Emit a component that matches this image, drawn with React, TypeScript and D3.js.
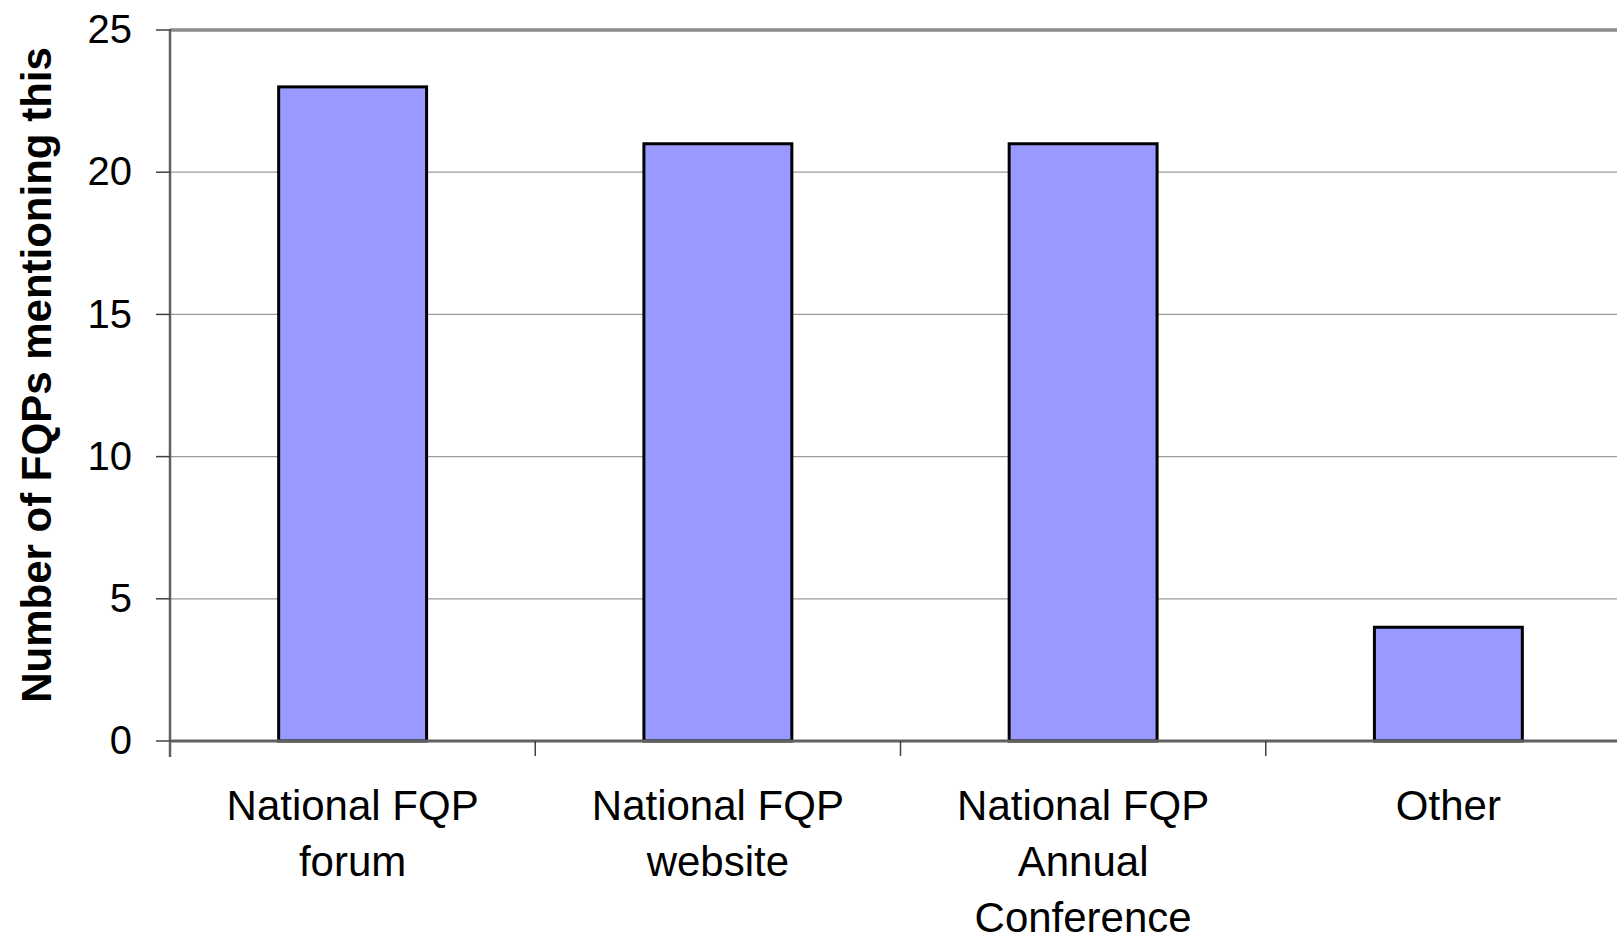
import React, { useEffect, useRef } from 'react';
import * as d3 from 'd3';

const categories = ['National FQP forum', 'National FQP website', 'National FQP Annual Conference', 'Other'];
const categoryLines = [
  ['National FQP', 'forum'],
  ['National FQP', 'website'],
  ['National FQP', 'Annual', 'Conference'],
  ['Other'],
];
const counts = [23, 21, 21, 4];
const yTicks = [0, 5, 10, 15, 20, 25];
const yLabel = 'Number of FQPs mentioning this';

const App: React.FC = () => {
  const ref = useRef<SVGSVGElement | null>(null);

  useEffect(() => {
    const svg = d3.select(ref.current);
    const width = 1617;
    const height = 937;
    const left = 170;
    const top = 30;
    const bottom = 741;
    const right = 1631; // plot runs past the picture edge

    svg.selectAll('*').remove();
    svg.attr('width', width).attr('height', height).attr('viewBox', `0 0 ${width} ${height}`);

    const x = d3.scaleBand<string>().domain(categories).range([left, right]).padding(0);
    const y = d3.scaleLinear().domain([0, 25]).range([bottom, top]);
    const barW = x.bandwidth() * 0.405;

    // gridlines
    svg.append('g')
      .selectAll('line')
      .data(yTicks.filter(d => d > 0 && d < 25))
      .join('line')
      .attr('x1', left)
      .attr('x2', width)
      .attr('y1', d => y(d))
      .attr('y2', d => y(d))
      .attr('stroke', '#9a9a9a')
      .attr('stroke-width', 1.2);

    // top border
    svg.append('line')
      .attr('x1', left).attr('x2', width)
      .attr('y1', y(25)).attr('y2', y(25))
      .attr('stroke', '#8c8c8c').attr('stroke-width', 3.5);

    // bars
    svg.append('g')
      .selectAll('rect')
      .data(counts)
      .join('rect')
      .attr('x', (d, i) => (x(categories[i]) as number) + (x.bandwidth() - barW) / 2)
      .attr('y', d => y(d))
      .attr('width', barW)
      .attr('height', d => y(0) - y(d))
      .attr('fill', '#9999ff')
      .attr('stroke', '#000')
      .attr('stroke-width', 3);

    // y axis
    const yAxis = svg.append('g').attr('transform', `translate(${left},0)`);
    yAxis.append('line')
      .attr('x1', 0).attr('x2', 0).attr('y1', top - 1).attr('y2', bottom + 16)
      .attr('stroke', '#606060').attr('stroke-width', 2.5);
    yAxis.selectAll('line.tick')
      .data(yTicks)
      .join('line')
      .attr('class', 'tick')
      .attr('x1', -14).attr('x2', 0)
      .attr('y1', d => y(d)).attr('y2', d => y(d))
      .attr('stroke', '#404040').attr('stroke-width', 1.5);
    yAxis.selectAll('text')
      .data(yTicks)
      .join('text')
      .attr('x', -38)
      .attr('y', d => y(d))
      .attr('dy', '0.33em')
      .attr('text-anchor', 'end')
      .attr('font-family', 'Liberation Sans, Arial, sans-serif')
      .attr('font-size', 40)
      .attr('fill', '#000')
      .text(d => d);

    // x axis
    const xAxis = svg.append('g').attr('transform', `translate(0,${bottom})`);
    xAxis.append('line')
      .attr('x1', left).attr('x2', width).attr('y1', 0).attr('y2', 0)
      .attr('stroke', '#606060').attr('stroke-width', 3);
    xAxis.selectAll('line.tick')
      .data(categories.slice(1))
      .join('line')
      .attr('class', 'tick')
      .attr('x1', d => x(d) as number).attr('x2', d => x(d) as number)
      .attr('y1', 0).attr('y2', 15)
      .attr('stroke', '#404040').attr('stroke-width', 1.5);

    const labels = xAxis.selectAll('text')
      .data(categories)
      .join('text')
      .attr('text-anchor', 'middle')
      .attr('font-family', 'Liberation Sans, Arial, sans-serif')
      .attr('font-size', 42)
      .attr('fill', '#000');
    labels.each(function (d, i) {
      const cx = (x(d) as number) + x.bandwidth() / 2;
      d3.select(this)
        .selectAll('tspan')
        .data(categoryLines[i])
        .join('tspan')
        .attr('x', cx)
        .attr('y', (t, j) => 79 + j * 56)
        .text(t => t);
    });

    // y label
    svg.append('text')
      .attr('transform', `translate(51,${(46 + 704) / 2}) rotate(-90)`)
      .attr('text-anchor', 'middle')
      .attr('font-family', 'Liberation Sans, Arial, sans-serif')
      .attr('font-weight', 'bold')
      .attr('font-size', 42)
      .attr('fill', '#000')
      .text(yLabel);
  }, []);

  return (
    <svg ref={ref} style={{ position: 'absolute', left: 0, top: 0, background: '#fff' }}></svg>
  );
};

export default App;
